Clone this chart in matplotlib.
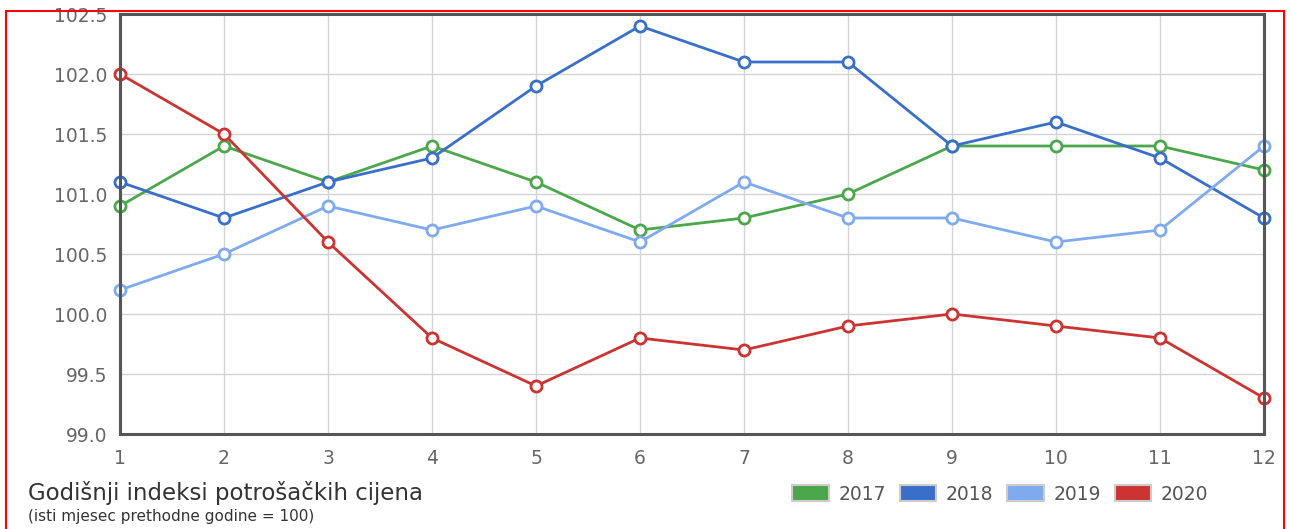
import matplotlib.pyplot as plt
from matplotlib.patches import Patch, Rectangle

# =============================================================================
# DATA
# =============================================================================
months = [1, 2, 3, 4, 5, 6, 7, 8, 9, 10, 11, 12]
years = ["2017", "2018", "2019", "2020"]

idx_2017 = [100.9, 101.4, 101.1, 101.4, 101.1, 100.7, 100.8, 101.0, 101.4, 101.4, 101.4, 101.2]
idx_2018 = [101.1, 100.8, 101.1, 101.3, 101.9, 102.4, 102.1, 102.1, 101.4, 101.6, 101.3, 100.8]
idx_2019 = [100.2, 100.5, 100.9, 100.7, 100.9, 100.6, 101.1, 100.8, 100.8, 100.6, 100.7, 101.4]
idx_2020 = [102.0, 101.5, 100.6, 99.8, 99.4, 99.8, 99.7, 99.9, 100.0, 99.9, 99.8, 99.3]

series = [idx_2017, idx_2018, idx_2019, idx_2020]
colors = ['#4ca64c', '#3a6fc9', '#7faaee', '#cc3333']

y_ticks = [99.0, 99.5, 100.0, 100.5, 101.0, 101.5, 102.0, 102.5]

title = "Godišnji indeksi potrošačkih cijena"
subtitle = "(isti mjesec prethodne godine = 100)"

# =============================================================================
# PLOTTING
# =============================================================================
plt.rcParams['font.family'] = ['DejaVu Sans']

W, H = 1291, 529
fig = plt.figure(figsize=(W / 100, H / 100), dpi=100)
ax = fig.add_axes([120 / W, 1 - 434 / H, (1264 - 120) / W, (434 - 14) / H])

# red outer frame
fig.patches.append(Rectangle((6 / W, -0.05), (1284 - 6) / W, 1.05 - 11 / H,
                             transform=fig.transFigure, fill=False,
                             edgecolor='#ff0000', linewidth=1.5))

for vals, c, lab in zip(series, colors, years):
    ax.plot(months, vals, '-o', color=c, linewidth=2, markersize=8,
            markerfacecolor='white', markeredgecolor=c, markeredgewidth=2,
            label=lab, clip_on=False)

ax.set_xlim(1, 12)
ax.set_ylim(99.0, 102.5)
ax.set_xticks(months)
ax.set_yticks(y_ticks)
ax.set_yticklabels([f"{v:.1f}" for v in y_ticks])
ax.tick_params(length=0, labelsize=13.5, colors='#666666', pad=9)
ax.tick_params(axis='x', pad=11)

ax.grid(True, color='#d4d4d4', linewidth=1)
ax.set_axisbelow(True)
for s in ax.spines.values():
    s.set_color('#555555')
    s.set_linewidth(2.2)

# title block bottom left
fig.text(28 / W, 1 - 493 / H, title, fontsize=16.5, color='#333333',
         ha='left', va='center')
fig.text(28 / W, 1 - 517 / H, subtitle, fontsize=11, color='#333333',
         ha='left', va='center')

# legend
handles = [Patch(facecolor=c, edgecolor='#cccccc', linewidth=1.5) for c in colors]
fig.legend(handles, years, loc='center left',
           bbox_to_anchor=(783 / W, 1 - 494 / H), ncol=4, frameon=False,
           fontsize=13.5, handlelength=1.95, handleheight=0.9,
           handletextpad=0.5, columnspacing=0.75, borderpad=0,
           labelcolor='#555555')

plt.savefig('out.png', dpi=100)
